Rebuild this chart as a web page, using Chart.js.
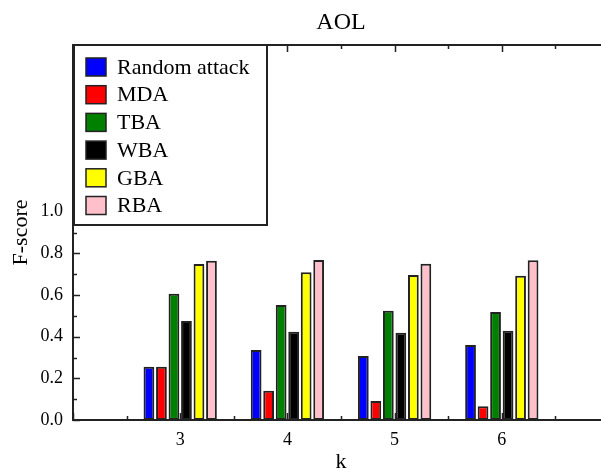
<!DOCTYPE html>
<html>
<head>
<meta charset="utf-8">
<script src="https://cdn.jsdelivr.net/npm/chart.js@4/dist/chart.umd.min.js"></script>
<style>
    html, body { margin: 0; padding: 0; background: #fff; }
    #wrap { width: 601px; height: 475px; overflow: hidden; }
</style>
</head>
<body>
<div id="wrap">
    <canvas id="fscoreChart" width="620" height="475"></canvas>
</div>
<script>
const kValues = [3, 4, 5, 6];
const seriesNames = ['Random attack', 'MDA', 'TBA', 'WBA', 'GBA', 'RBA'];
const seriesColors = ['#0000ff', '#ff0000', '#008000', '#000000', '#ffff00', '#ffc0cb'];
const randomAttack = [0.256, 0.336, 0.307, 0.360];
const mda = [0.256, 0.141, 0.091, 0.066];
const tba = [0.606, 0.552, 0.525, 0.518];
const wba = [0.475, 0.424, 0.419, 0.429];
const gba = [0.749, 0.709, 0.696, 0.693];
const rba = [0.765, 0.768, 0.750, 0.767];
const yTickLabels = ['0.0', '0.2', '0.4', '0.6', '0.8', '1.0'];

const FONT = "'Liberation Serif', 'DejaVu Serif', serif";
const INK = '#222';

// frame + inward ticks, drawn under the bars
const framePlugin = {
    id: 'frame',
    beforeDatasetsDraw(chart) {
        const ctx = chart.ctx;
        const a = chart.chartArea;
        const x = chart.scales.x;
        const y = chart.scales.y;
        ctx.save();
        ctx.strokeStyle = INK;
        ctx.lineWidth = 2;
        ctx.strokeRect(a.left, a.top, a.right - a.left, a.bottom - a.top);
        ctx.lineWidth = 1.5;
        ctx.beginPath();
        for (let v = x.min; v <= x.max + 1e-6; v += 0.5) {
            const px = Math.round(x.getPixelForValue(v)) + 0.5;
            const len = Number.isInteger(v) ? 7 : 4;
            ctx.moveTo(px, a.bottom); ctx.lineTo(px, a.bottom - len);
            ctx.moveTo(px, a.top); ctx.lineTo(px, a.top + len);
        }
        for (let i = 0; i <= 18; i++) {
            const py = Math.round(y.getPixelForValue(i / 10)) + 0.5;
            const len = i % 2 === 0 ? 7 : 4;
            ctx.moveTo(a.left, py); ctx.lineTo(a.left + len, py);
        }
        ctx.stroke();
        ctx.restore();
    }
};

// boxed legend in the top-left corner of the plot
const boxLegendPlugin = {
    id: 'boxLegend',
    afterDraw(chart) {
        const ctx = chart.ctx;
        const a = chart.chartArea;
        const left = a.left + 1, top = a.top;
        ctx.save();
        ctx.fillStyle = '#fff';
        ctx.fillRect(left, top, 193, 180);
        ctx.strokeStyle = INK;
        ctx.lineWidth = 2;
        ctx.strokeRect(left, top, 193, 180);
        ctx.font = '22px ' + FONT;
        ctx.textBaseline = 'middle';
        chart.data.datasets.forEach((ds, i) => {
            const cy = top + 22 + i * 27.7;
            ctx.fillStyle = ds.backgroundColor;
            ctx.fillRect(left + 12, cy - 9, 20, 18);
            ctx.lineWidth = 1.5;
            ctx.strokeRect(left + 12, cy - 9, 20, 18);
            ctx.fillStyle = '#000';
            ctx.fillText(ds.label, left + 43, cy + 1);
        });
        ctx.restore();
    }
};

const seriesData = [randomAttack, mda, tba, wba, gba, rba];

const ctx = document.getElementById('fscoreChart').getContext('2d');
new Chart(ctx, {
    type: 'bar',
    data: {
        datasets: seriesNames.map((name, i) => ({
            label: name,
            data: kValues.map((k, j) => ({ x: k, y: seriesData[i][j] })),
            backgroundColor: seriesColors[i],
            borderColor: INK,
            borderWidth: 2,
            borderSkipped: false,
            categoryPercentage: 0.7,
            barPercentage: 0.86
        }))
    },
    options: {
        responsive: false,
        animation: false,
        layout: { padding: { left: 0, right: 11, top: 0, bottom: 0 } },
        plugins: {
            legend: { display: false },
            tooltip: { enabled: false }
        },
        scales: {
            x: {
                type: 'linear',
                position: 'bottom',
                offset: false,
                min: 2,
                max: 7,
                grid: { display: false, drawTicks: false, offset: false },
                border: { display: false },
                ticks: {
                    stepSize: 1,
                    padding: 9,
                    color: '#000',
                    font: { family: FONT, size: 18 },
                    callback: (v) => kValues.includes(v) ? String(v) : ''
                },
                title: {
                    display: true,
                    text: 'k',
                    color: '#000',
                    font: { family: FONT, size: 22 },
                    padding: { top: 0, bottom: 0 }
                },
                afterFit: (s) => { s.height = 55; }
            },
            x2: {
                type: 'linear',
                position: 'top',
                offset: false,
                min: 2,
                max: 7,
                grid: { display: false, drawTicks: false, offset: false },
                border: { display: false },
                ticks: { display: false },
                title: {
                    display: true,
                    text: 'AOL',
                    color: '#000',
                    font: { family: FONT, size: 24 },
                    padding: { top: 8, bottom: 0 }
                },
                afterFit: (s) => { s.height = 45; }
            },
            y: {
                min: 0,
                max: 1.8,
                grid: { display: false, drawTicks: false },
                border: { display: false },
                ticks: {
                    stepSize: 0.2,
                    padding: 10,
                    color: '#000',
                    font: { family: FONT, size: 18 },
                    callback: (v) => {
                        const idx = Math.round(v / 0.2);
                        return idx < yTickLabels.length ? yTickLabels[idx] : '';
                    }
                },
                title: {
                    display: true,
                    text: 'F-score',
                    color: '#000',
                    font: { family: FONT, size: 22 },
                    padding: { top: 8, bottom: 0 }
                },
                afterFit: (s) => { s.width = 73; }
            }
        }
    },
    plugins: [framePlugin, boxLegendPlugin]
});
</script>
</body>
</html>
